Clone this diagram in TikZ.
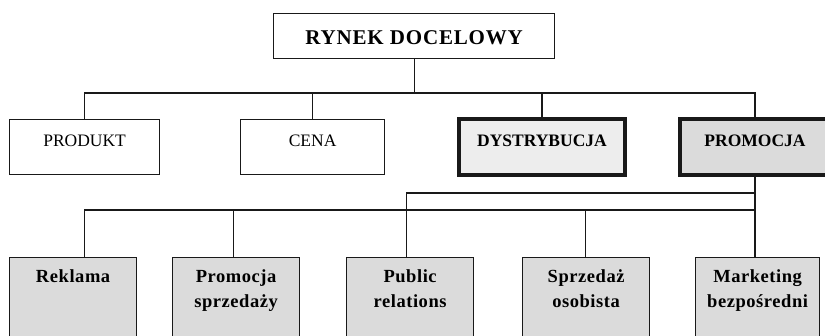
\documentclass[tikz,border=0pt]{standalone}
\usepackage{fontspec}
\setmainfont{Liberation Serif}
\usetikzlibrary{positioning}

\begin{document}
\begin{tikzpicture}[x=1pt,y=-1pt,
  every node/.style={draw=black!90,line width=1.2pt,inner sep=0pt,anchor=north west},
  link/.style={line width=1.2pt,black!90},
  topbox/.style={minimum width=281pt,text height=31pt,text depth=14pt,
    font=\fontsize{21}{25}\selectfont\bfseries\addfontfeature{LetterSpace=4}},
  mixbox/.style={text height=27pt,text depth=28pt,
    font=\fontsize{17.5}{21}\selectfont},
  keybox/.style={mixbox,line width=4pt,text depth=29pt,minimum width=166pt,
    font=\fontsize{17.5}{21}\selectfont\bfseries},
  toolbox/.style={fill=black!14,text width=127pt,align=center,
    text height=25pt,text depth=90pt,
    font=\fontsize{18.5}{25}\selectfont\bfseries\addfontfeature{LetterSpace=3}}]
  \useasboundingbox (0,0) rectangle (825,335);
  \clip (0,0) rectangle (825,335);
  % top level
  \node[topbox](rynek) at (273,13){RYNEK DOCELOWY};
  % marketing mix
  \node[mixbox,minimum width=150pt](produkt) at (9,119){PRODUKT};
  \node[mixbox,minimum width=144pt](cena) at (240,119){CENA};
  \node[keybox,fill=black!7](dystr) at (457,117){DYSTRYBUCJA};
  \node[keybox,fill=black!14,minimum width=150pt](promo) at (678,117){PROMOCJA};
  \coordinate (topbus) at (0,93);
  \draw[link](rynek.south)--(rynek.south |- topbus)-|(produkt.north);
  \draw[link](rynek.south |- topbus)-|(cena.north);
  \draw[link](rynek.south |- topbus)-|(dystr.north);
  \draw[link](rynek.south |- topbus)-|(promo.north);
  % promotion tools
  \node[toolbox](reklama) at (9,257){Reklama};
  \node[toolbox](promsprz) at (172,257){Promocja\\sprzedaży};
  \node[toolbox](pr) at (346,257){Public\\relations};
  \node[toolbox](sprzedaz) at (522,257){Sprzedaż\\osobista};
  \node[toolbox,text width=124pt](direct) at (695,257){Marketing\\bezpośredni};
  \coordinate (lowbus) at (0,210);
  \coordinate (highbus) at (0,193);
  \draw[link](promo.south)--(promo.south |- direct.north);
  \draw[link](promo.south |- lowbus)-|([xshift=11pt]reklama.north);
  \draw[link](promo.south |- lowbus)-|([xshift=-3pt]promsprz.north);
  \draw[link](promo.south |- lowbus)-|([xshift=-1pt]sprzedaz.north);
  \draw[link](promo.south |- highbus)-|([xshift=-3.5pt]pr.north);
\end{tikzpicture}
\end{document}
